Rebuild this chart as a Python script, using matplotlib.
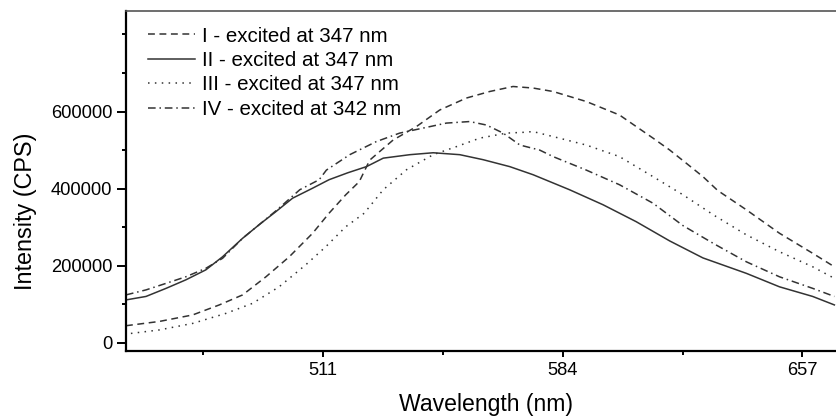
import numpy as np
import matplotlib.pyplot as plt
from matplotlib.ticker import MultipleLocator

plt.rcParams['font.family'] = ['Liberation Sans', 'DejaVu Sans']

# emission spectra, wavelength (nm) vs intensity (CPS)
wl_1 = [451.1, 461.2, 471.4, 479.5, 486.6, 493.7, 500.8, 507.9, 512.9, 518.0, 522.1,
        525.3, 532.4, 539.5, 546.6, 554.7, 561.8, 568.9, 575.0, 581.1, 591.2, 601.3,
        606.4, 611.5, 616.6, 621.6, 626.7, 631.2, 639.9, 650.0, 660.1, 666.7]
int_1 = [44000, 55000, 72000, 98000, 124000, 171000, 223000, 284000, 336000, 384000, 418000,
         474000, 526000, 561000, 604000, 635000, 652000, 665000, 661000, 652000, 626000, 591000,
         561000, 531000, 500000, 466000, 431000, 395000, 345000, 284000, 232000, 197000]

wl_2 = [451.1, 457.2, 463.3, 469.3, 475.4, 480.5, 486.6, 491.6, 496.7, 501.8, 507.9,
        512.9, 518.6, 524.3, 529.4, 537.5, 544.6, 552.7, 559.8, 567.9, 575.0, 586.1,
        596.3, 606.4, 616.6, 626.7, 639.9, 650.0, 660.1, 666.7]
int_2 = [111000, 120000, 141000, 163000, 189000, 223000, 271000, 306000, 340000, 375000, 401000,
         423000, 441000, 457000, 479000, 488000, 493000, 488000, 475000, 457000, 436000, 397000,
         358000, 314000, 264000, 220000, 180000, 145000, 120000, 98000]

wl_3 = [452.6, 461.2, 471.4, 481.5, 489.6, 497.7, 505.8, 511.9, 518.0, 523.6, 529.4,
        536.5, 544.6, 551.7, 558.8, 566.9, 572.0, 575.0, 581.1, 591.2, 601.3, 611.5,
        620.6, 630.2, 639.9, 650.0, 660.1, 666.7]
int_3 = [24000, 33000, 50000, 76000, 102000, 145000, 202000, 249000, 301000, 336000, 397000,
         449000, 488000, 509000, 531000, 544000, 546000, 548000, 535000, 513000, 483000, 431000,
         384000, 330000, 280000, 236000, 197000, 167000]

wl_4 = [451.1, 457.2, 463.3, 469.3, 475.4, 480.5, 486.6, 491.6, 496.7, 504.0, 509.9,
        512.1, 519.2, 527.3, 534.4, 541.5, 548.6, 555.7, 560.8, 565.9, 571.0, 577.0,
        581.1, 591.2, 601.3, 611.5, 620.6, 630.2, 639.9, 650.0, 660.1, 666.7]
int_4 = [124000, 137000, 154000, 171000, 193000, 219000, 271000, 306000, 342000, 397000, 423000,
         448000, 488000, 522000, 544000, 557000, 570000, 574000, 565000, 544000, 513000, 500000,
         483000, 448000, 410000, 362000, 304000, 256000, 210000, 171000, 141000, 120000]

labels = ['I - excited at 347 nm', 'II - excited at 347 nm',
          'III - excited at 347 nm', 'IV - excited at 342 nm']

fig = plt.figure(figsize=(8.37, 4.18), dpi=100)
ax = fig.add_axes([0.1505, 0.1603, 0.8495, 0.8134])

c = '#333333'
ax.plot(wl_1, int_1, color=c, lw=1.1, ls=(0, (4.5, 3)), label=labels[0])
ax.plot(wl_2, int_2, color=c, lw=1.1, ls='-', label=labels[1])
ax.plot(wl_3, int_3, color=c, lw=1.1, ls=(0, (1, 3.5)), label=labels[2])
ax.plot(wl_4, int_4, color=c, lw=1.1, ls=(0, (5, 2.5, 1, 2.5)), label=labels[3])

ax.set_xlim(451.1, 667.5)
ax.set_ylim(-21600, 861000)
ax.set_xticks([511, 584, 657])
ax.xaxis.set_minor_locator(MultipleLocator(36.5))
ax.set_yticks([0, 200000, 400000, 600000])
ax.yaxis.set_minor_locator(MultipleLocator(100000))

ax.tick_params(which='both', direction='out', labelsize=13.2, width=1.4, color='black')
ax.tick_params(axis='y', which='major', length=6.5)
ax.tick_params(axis='x', which='major', length=4.5)
ax.tick_params(which='minor', length=3)

for side in ['left', 'bottom']:
    ax.spines[side].set_linewidth(1.6)
ax.spines['top'].set_linewidth(1.2)
ax.spines['top'].set_color('#555555')
ax.spines['right'].set_visible(False)

ax.set_xlabel('Wavelength (nm)', fontsize=16.6)
ax.set_ylabel('Intensity (CPS)', fontsize=16.8)
ax.xaxis.set_label_coords(0.506, -0.125)
ax.yaxis.set_label_coords(-0.125, 0.412)

leg = ax.legend(loc='upper left', frameon=False, fontsize=14.8, handlelength=2.3,
                handletextpad=0.35, labelspacing=0.26, borderaxespad=0.0,
                borderpad=0.3, bbox_to_anchor=(0.022, 0.972))

fig.savefig('out.png', dpi=100)
